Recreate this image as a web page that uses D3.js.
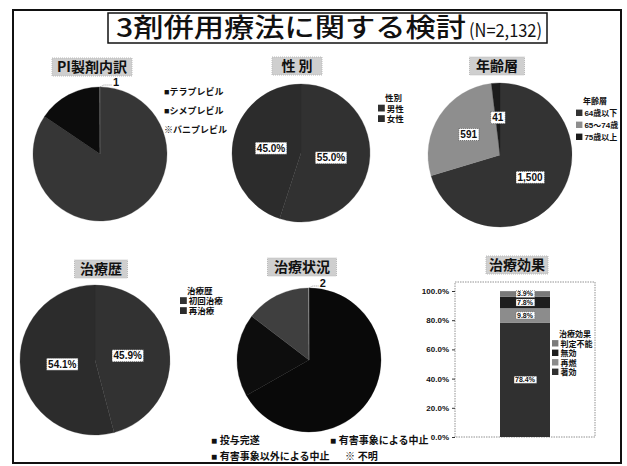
<!DOCTYPE html>
<html><head><meta charset="utf-8">
<script src="https://cdn.jsdelivr.net/npm/d3@7"></script>
<style>
html,body{margin:0;padding:0;background:#fff;}
svg{display:block;font-family:"Noto Sans CJK JP","Noto Sans",sans-serif;}
</style></head>
<body>
<script>
// ---- data ----
const titleMain = "3剤併用療法に関する検討";
const titleN = "(N=2,132)";

const piLabels = ["テラプレビル", "シメプレビル", "バニプレビル"];
const piCounts = [1801, 330, 1];

const sexLabels = ["男性", "女性"];
const sexPct = [55.0, 45.0];

const ageLabels = ["64歳以下", "65～74歳", "75歳以上"];
const ageCounts = [1500, 591, 41];

const histLabels = ["初回治療", "再治療"];
const histPct = [45.9, 54.1];

const statusLabels = ["投与完遂", "有害事象による中止", "有害事象以外による中止", "不明"];
const statusCounts = [1424, 396, 310, 2];

const effectLabels = ["著効", "再燃", "無効", "判定不能"];
const effectPct = [78.4, 9.8, 7.8, 3.9];
const effectTicks = [0, 20, 40, 60, 80, 100];

// ---- drawing ----
const W = 627, H = 466;
const svg = d3.select("body").append("svg").attr("width", W).attr("height", H);
const fmtInt = d3.format(",");
const fmtPct = d => d.toFixed(1) + "%";
const LAT = "Liberation Sans, Arial, sans-serif";
const LEG = "Liberation Sans, 'Noto Sans CJK JP', sans-serif";

// outer frame
svg.append("rect").attr("x", 13).attr("y", 10).attr("width", 608).attr("height", 453)
  .attr("fill", "none").attr("stroke", "#111").attr("stroke-width", 2);

// main title
const tg = svg.append("g");
tg.append("rect").attr("x", 108).attr("y", 13).attr("width", 439).attr("height", 30)
  .attr("fill", "#fff").attr("stroke", "#111").attr("stroke-width", 1.5);
tg.append("text").attr("x", 116).attr("y", 37).attr("fill", "#111")
  .attr("font-size", 26).attr("font-weight", 500)
  .attr("textLength", 350).attr("lengthAdjust", "spacingAndGlyphs").text(titleMain);
tg.append("text").attr("x", 469).attr("y", 37).attr("fill", "#111")
  .attr("font-size", 18).attr("font-weight", 400)
  .attr("textLength", 73).attr("lengthAdjust", "spacingAndGlyphs").text(titleN);

function chartTitle(cx, cy, w, label) {
  const g = svg.append("g");
  g.append("rect").attr("x", cx - w / 2).attr("y", cy - 9).attr("width", w).attr("height", 18)
    .attr("fill", "#cfcfcf").attr("stroke", "#bbb").attr("stroke-dasharray", "1,1");
  g.append("text").attr("x", cx).attr("y", cy + 5).attr("text-anchor", "middle")
    .attr("font-size", 14).attr("font-weight", 700).attr("fill", "#111").text(label);
}

function pie(opts) {
  const {cx, cy, r, values, colors, labelFrac, labelFmt} = opts;
  const g = svg.append("g").attr("transform", `translate(${cx},${cy})`);
  const arcs = d3.pie().sort(null).value(d => d)(values);
  const arc = d3.arc().innerRadius(0).outerRadius(r);
  g.selectAll("path").data(arcs).join("path")
    .attr("d", arc).attr("fill", (d, i) => colors[i])
    .attr("stroke", (d, i) => colors[i]).attr("stroke-width", 0.3);
  if (labelFmt) {
    const la = d3.arc().innerRadius(0).outerRadius(2 * r * labelFrac);
    arcs.forEach((a, i) => {
      const [x, y] = la.centroid(a);
      const txt = labelFmt(values[i]);
      const lg = g.append("g").attr("transform", `translate(${x},${y})`);
      const t = lg.append("text").attr("text-anchor", "middle").attr("y", 3.5)
        .attr("font-size", 10).attr("font-weight", 700).attr("fill", "#111")
        .attr("font-family", LAT).text(txt);
      const bb = t.node().getBBox();
      lg.insert("rect", "text").attr("x", bb.x - 1.5).attr("y", bb.y - 0.5)
        .attr("width", bb.width + 3).attr("height", bb.height + 1)
        .attr("fill", "#fff").attr("stroke", "#333").attr("stroke-width", 0.6).attr("stroke-dasharray", "1,1");
    });
  }
  return {g, arcs};
}

function tinyLabel(p, r, txt, dx) {
  const a = p.arcs[p.arcs.length - 1];
  const ang = (a.startAngle + a.endAngle) / 2;
  const x0 = Math.sin(ang) * r, y0 = -Math.cos(ang) * r;
  p.g.append("path").attr("d", `M${x0},${y0}L${x0 + 4},${y0 - 2}L${x0 + dx},${y0 - 2}`)
    .attr("fill", "none").attr("stroke", "#555").attr("stroke-width", 0.6).attr("stroke-dasharray", "1,1");
  p.g.append("text").attr("x", x0 + dx + 1).attr("y", y0 - 1).attr("font-size", 11)
    .attr("font-weight", 700).attr("fill", "#111").attr("font-family", LAT).text(txt);
}

function legend(x, y, title, labels, colors, step, fs) {
  const g = svg.append("g").attr("font-size", fs).attr("font-weight", 700).attr("fill", "#111")
    .attr("font-family", LEG);
  let yy = y;
  if (title) {
    g.append("text").attr("x", x + 5).attr("y", yy).text(title);
    yy += step;
  }
  labels.forEach((l, i) => {
    g.append("rect").attr("x", x - 2).attr("y", yy - fs * 0.8).attr("width", fs * 0.8).attr("height", fs * 0.8)
      .attr("fill", colors[i]);
    g.append("text").attr("x", x + fs * 0.8).attr("y", yy).text(l);
    yy += step;
  });
}

// 1. PI製剤内訳
chartTitle(92, 67, 80, "PI製剤内訳");
const piColors = ["#363636", "#0c0c0c", "#8a8a8a"];
const p1 = pie({cx: 100, cy: 154, r: 67, values: piCounts, colors: piColors});
tinyLabel(p1, 67, fmtInt(piCounts[2]), 12);
(function () {
  const g = svg.append("g").attr("font-size", 9).attr("font-weight", 700).attr("fill", "#111")
    .attr("font-family", LEG);
  piLabels.forEach((l, i) => {
    const yy = 95 + i * 19;
    g.append("text").attr("x", 164).attr("y", yy).text((i < 2 ? "■" : "※") + l);
  });
})();

// 2. 性別
chartTitle(297, 66, 50, "性 別");
const sexColors = ["#313131", "#2c2c2c"];
pie({cx: 301, cy: 153, r: 69, values: sexPct, colors: sexColors, labelFrac: 0.44, labelFmt: fmtPct});
legend(380, 101, "性別", sexLabels, sexColors, 10.5, 8.5);

// 3. 年齢層
chartTitle(497, 66, 55, "年齢層");
const ageColors = ["#333333", "#8e8e8e", "#1c1c1c"];
pie({cx: 500, cy: 155, r: 72, values: ageCounts, colors: ageColors, labelFrac: 0.52, labelFmt: fmtInt});
legend(578, 104, "年齢層", ageLabels, ageColors, 12, 8);

// 4. 治療歴
chartTitle(101, 269, 53, "治療歴");
const histColors = ["#323232", "#2c2c2c"];
pie({cx: 95, cy: 360, r: 75, values: histPct, colors: histColors, labelFrac: 0.44, labelFmt: fmtPct});
legend(182, 294, "治療歴", histLabels, histColors, 10, 8.5);

// 5. 治療状況
chartTitle(302, 267, 69, "治療状況");
const statusColors = ["#090909", "#0d0d0d", "#3f3f3f", "#999"];
const p5 = pie({cx: 309, cy: 360, r: 72, values: statusCounts, colors: statusColors});
tinyLabel(p5, 72, fmtInt(statusCounts[3]), 10);
(function () {
  const g = svg.append("g").attr("font-size", 10).attr("font-weight", 700).attr("fill", "#111")
    .attr("font-family", LEG);
  const pos = [[211, 444], [330, 444], [211, 460], [345, 460]];
  statusLabels.forEach((l, i) => {
    g.append("text").attr("x", pos[i][0]).attr("y", pos[i][1]).text((i < 3 ? "■ " : "※ ") + l);
  });
})();

// 6. 治療効果 (stacked bar)
chartTitle(517, 265, 62, "治療効果");
const effColors = ["#303030", "#8c8c8c", "#1e1e1e", "#7a7a7a"];
const y = d3.scaleLinear().domain([0, 100]).range([437, 291]);
svg.append("rect").attr("x", 455).attr("y", 282).attr("width", 140).attr("height", 155)
  .attr("fill", "#fff").attr("stroke", "#777").attr("stroke-width", 0.8).attr("stroke-dasharray", "1.5,1");
const ax = svg.append("g").attr("transform", "translate(455,0)")
  .call(d3.axisLeft(y).tickValues(effectTicks).tickFormat(d => d.toFixed(1) + "%").tickSize(3));
ax.select(".domain").remove();
ax.selectAll("text").attr("font-size", 8).attr("font-weight", 700).attr("fill", "#111")
  .attr("font-family", LAT);
ax.selectAll("line").attr("stroke", "#333");
const x = d3.scaleBand().domain(["all"]).range([455, 595]).paddingInner(0).paddingOuter(0.9);
let cum = 0;
const stacks = effectPct.map((v, i) => { const s = {v, i, y0: cum, y1: cum + v}; cum += v; return s; });
svg.selectAll("rect.seg").data(stacks).join("rect").attr("class", "seg")
  .attr("x", x("all")).attr("width", x.bandwidth())
  .attr("y", d => y(d.y1)).attr("height", d => y(d.y0) - y(d.y1))
  .attr("fill", d => effColors[d.i]);
stacks.forEach(d => {
  const cy = (y(d.y0) + y(d.y1)) / 2;
  const lg = svg.append("g").attr("transform", `translate(${x("all") + x.bandwidth() / 2},${cy})`);
  const t = lg.append("text").attr("text-anchor", "middle").attr("y", 2.5)
    .attr("font-size", 7).attr("font-weight", 700).attr("fill", "#111")
    .attr("font-family", LAT).text(fmtPct(d.v));
  const bb = t.node().getBBox();
  lg.insert("rect", "text").attr("x", bb.x - 1).attr("y", bb.y)
    .attr("width", bb.width + 2).attr("height", bb.height)
    .attr("fill", "#fff").attr("stroke", "#555").attr("stroke-width", 0.5).attr("stroke-dasharray", "1,1");
});
legend(554, 337, "治療効果", effectLabels.slice().reverse(), effColors.slice().reverse(), 9.5, 8);
</script>
</body></html>
